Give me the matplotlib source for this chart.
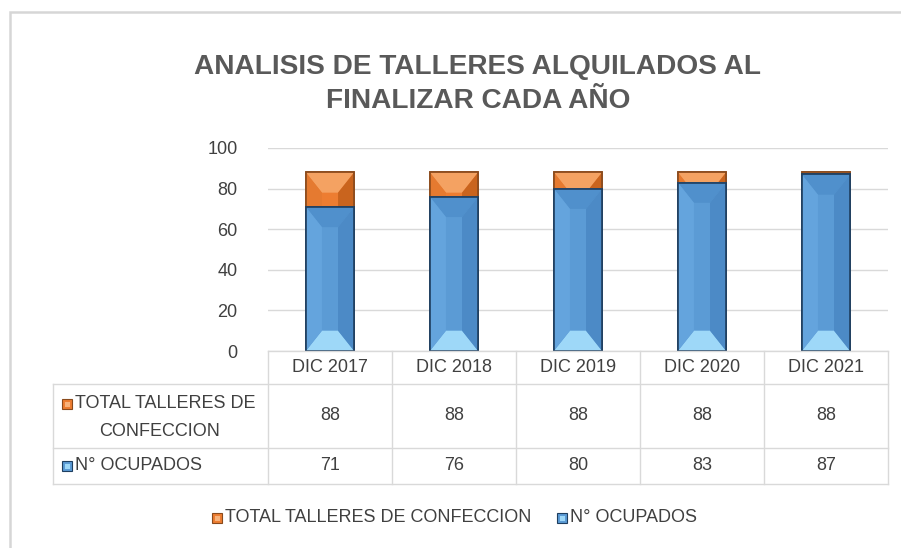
import matplotlib.pyplot as plt
from matplotlib.patches import Polygon, Rectangle
from matplotlib.lines import Line2D

# datos
categorias = ['DIC 2017', 'DIC 2018', 'DIC 2019', 'DIC 2020', 'DIC 2021']
total_talleres = [88, 88, 88, 88, 88]
ocupados = [71, 76, 80, 83, 87]
serie_total = 'TOTAL TALLERES DE CONFECCION'
serie_ocup = 'N° OCUPADOS'
titulo = 'ANALISIS DE TALLERES ALQUILADOS AL\nFINALIZAR CADA AÑO'

W, H = 901, 548
plt.rcParams['font.family'] = ['Liberation Sans', 'DejaVu Sans']
TXT = '#404040'

fig = plt.figure(figsize=(W / 100, H / 100), dpi=100)
fig.patch.set_facecolor('white')


def fx(x):
    return x / W


def fy(y):
    return 1 - y / H


# marco exterior
fig.add_artist(Rectangle((fx(10), fy(560)), fx(900), fy(12) - fy(560), fill=False,
                         edgecolor='#D6D6D6', linewidth=1.8, transform=fig.transFigure))

fig.text(fx(478), fy(84), titulo, ha='center', va='center', fontsize=20.2,
         fontweight='bold', color='#595959', linespacing=1.35)

ax = fig.add_axes([fx(268), fy(351), fx(888) - fx(268), fy(148) - fy(351)])
ax.set_xlim(-0.5, len(categorias) - 0.5)
ax.set_ylim(0, 100)
ax.set_yticks(range(0, 101, 20))
ax.set_xticks([])
for s in ax.spines.values():
    s.set_visible(False)
ax.yaxis.grid(True, color='#D9D9D9', linewidth=1)
ax.set_axisbelow(True)
ax.tick_params(axis='y', length=0, pad=22, labelsize=13, labelcolor=TXT)

bw = 0.39


def barra_bisel(x, h, cara, arriba, abajo, izq, der, borde, z):
    hw = bw / 2
    ix, iy = 0.13, 10
    ax.bar(x, h, bw, color=cara, edgecolor=borde, linewidth=1.2, zorder=z)
    l, r = x - hw, x + hw
    il, ir = x - hw + ix, x + hw - ix
    it, ib = h - iy, iy
    pols = [
        ([(l, h), (r, h), (ir, it), (il, it)], arriba),
        ([(l, 0), (r, 0), (ir, ib), (il, ib)], abajo),
        ([(l, 0), (il, ib), (il, it), (l, h)], izq),
        ([(r, 0), (ir, ib), (ir, it), (r, h)], der),
    ]
    for pts, c in pols:
        ax.add_patch(Polygon(pts, closed=True, facecolor=c, edgecolor='none', zorder=z + 0.1))
    ax.add_patch(Rectangle((l, 0), bw, h, fill=False, edgecolor=borde, linewidth=1.2, zorder=z + 0.2))


for i in range(len(categorias)):
    barra_bisel(i, total_talleres[i], '#ED7D31', '#F4A262', '#F8B27A', '#E57A30', '#C9641E', '#8A4A1C', 2)
    barra_bisel(i, ocupados[i], '#5B9BD5', '#5090CC', '#9ED8F8', '#64A4DD', '#4C8AC6', '#1F3F60', 3)

# tabla de datos
gris = '#D9D9D9'
x_cols = [268 + k * 124 for k in range(len(categorias) + 1)]
y_head, y_r1, y_r2, y_bot = 351, 384, 448, 484
x_lab = 53


def linea(x0, y0, x1, y1):
    fig.add_artist(Line2D([fx(x0), fx(x1)], [fy(y0), fy(y1)], color=gris, linewidth=1,
                          transform=fig.transFigure))


for xc in x_cols:
    linea(xc, y_head, xc, y_bot)
linea(x_lab, y_r1, x_cols[-1], y_r1)
linea(x_lab, y_r1, x_lab, y_bot)
linea(x_lab, y_r2, x_cols[-1], y_r2)
linea(x_lab, y_bot, x_cols[-1], y_bot)
linea(x_cols[0], y_head, x_cols[-1], y_head)

for k, cat in enumerate(categorias):
    xc = (x_cols[k] + x_cols[k + 1]) / 2
    fig.text(fx(xc), fy(368), cat, ha='center', va='center', fontsize=13, color=TXT)
    fig.text(fx(xc), fy(416), str(total_talleres[k]), ha='center', va='center', fontsize=13, color=TXT)
    fig.text(fx(xc), fy(466), str(ocupados[k]), ha='center', va='center', fontsize=13, color=TXT)


def marcador(x, y, cara, oscuro, claro):
    s = 10
    fig.add_artist(Rectangle((fx(x), fy(y + s / 2)), s / W, s / H, facecolor=cara,
                             edgecolor=oscuro, linewidth=0.8, transform=fig.transFigure))
    fig.add_artist(Rectangle((fx(x + 2.5), fy(y + 2.5)), 5 / W, 5 / H, facecolor=claro,
                             edgecolor='none', transform=fig.transFigure))


marcador(62, 404, '#ED7D31', '#8A4A1C', '#F8B27A')
fig.text(fx(75), fy(404), 'TOTAL TALLERES DE', ha='left', va='center', fontsize=13, color=TXT)
fig.text(fx(160), fy(431), 'CONFECCION', ha='center', va='center', fontsize=13, color=TXT)
marcador(62, 466, '#5B9BD5', '#1F3F60', '#9ED8F8')
fig.text(fx(75), fy(466), serie_ocup, ha='left', va='center', fontsize=13, color=TXT)

# leyenda
marcador(212, 518, '#ED7D31', '#8A4A1C', '#F8B27A')
fig.text(fx(225), fy(518), serie_total, ha='left', va='center', fontsize=13, color=TXT)
marcador(557, 518, '#5B9BD5', '#1F3F60', '#9ED8F8')
fig.text(fx(570), fy(518), serie_ocup, ha='left', va='center', fontsize=13, color=TXT)

fig.savefig('out.png', dpi=100)
